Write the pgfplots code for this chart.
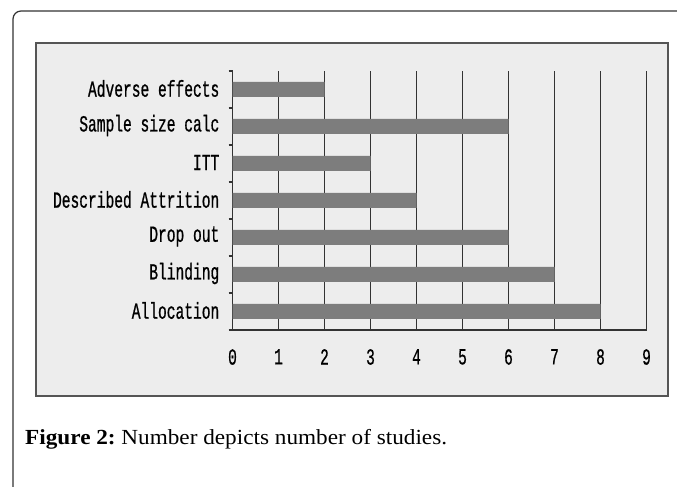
\documentclass[border=0pt]{standalone}
\usepackage{fontspec}
\usepackage{pgfplots}
\pgfplotsset{compat=1.18}
\setmainfont{Liberation Serif}
\newfontfamily\lbl[FakeStretch=0.634, FakeBold=0.7]{Liberation Mono}
\newfontfamily\capfont[FakeStretch=1.08]{Liberation Serif}
\definecolor{boxbg}{HTML}{EDEDED}
\definecolor{boxline}{HTML}{555555}
\definecolor{barc}{HTML}{7D7D7D}
\definecolor{gridc}{HTML}{333333}
\begin{document}
\begin{tikzpicture}[x=1bp,y=1bp]
\useasboundingbox (0,0) rectangle (677,487);
\clip (0,0) rectangle (677,487);
\fill[white] (0,0) rectangle (677,487);
% outer frame
\draw[line width=1.2bp, draw=black!80, rounded corners=8bp] (13,-30) rectangle (720,476);
% inner chart box
\draw[fill=boxbg, draw=boxline, line width=1.6bp] (36,91) rectangle (668,444);
\begin{axis}[
  at={(232.5bp,157bp)}, anchor=south west,
  scale only axis, width=414bp, height=259bp,
  xmin=0, xmax=9, ymin=0.5, ymax=7.5,
  axis x line*=bottom, axis y line*=left,
  axis line style={-, draw=gridc, line width=1.1bp},
  xtick={0,...,9},
  xticklabels={0,1,2,3,4,5,6,7,8,9},
  ytick={1,...,7},
  yticklabels={Allocation, Blinding, Drop out, Described Attrition, ITT, Sample size calc, Adverse effects},
  minor ytick={0.5,1.5,...,7.5},
  major tick length=0pt,
  minor tick length=4bp,
  tick align=inside,
  minor tick style={draw=gridc, line width=1.1bp},
  xmajorgrids,
  major grid style={draw=gridc, line width=1.1bp},
  yticklabel style={font=\lbl\fontsize{23bp}{25bp}\selectfont, inner sep=0pt, anchor=east, xshift=-13bp, yshift=1bp},
  xticklabel style={font=\lbl\fontsize{23bp}{25bp}\selectfont, inner sep=0pt, anchor=north, yshift=-19bp},
  xbar, bar width=15bp,
]
\addplot[fill=barc, draw=none] coordinates {
  (8,1) (7,2) (6,3) (4,4) (3,5) (6,6) (2,7)
};
\end{axis}
\node[anchor=base west, inner sep=0pt] at (25,42) {\capfont\fontsize{21.5bp}{24bp}\selectfont\textbf{Figure 2:}\hspace{-2bp} Number depicts number of studies.};
\end{tikzpicture}
\end{document}
